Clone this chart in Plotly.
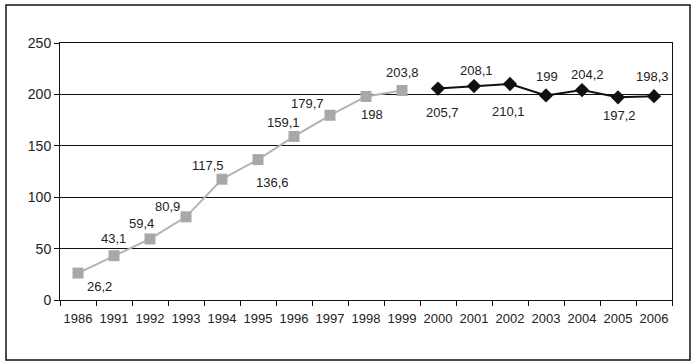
import plotly.graph_objects as go

years = ["1986", "1991", "1992", "1993", "1994", "1995", "1996", "1997", "1998",
         "1999", "2000", "2001", "2002", "2003", "2004", "2005", "2006"]
gray_years = years[:10]
gray_values = [26.2, 43.1, 59.4, 80.9, 117.5, 136.6, 159.1, 179.7, 198, 203.8]
black_years = years[10:]
black_values = [205.7, 208.1, 210.1, 199, 204.2, 197.2, 198.3]

# label offsets (pixels, relative to marker)
gray_shift = [(21, -13), (-1, 17), (-9, 15), (-19, 10), (-14, 14), (14, -23),
              (-11, 14), (-23, 12), (6, -18), (0, 18)]
black_shift = [(4, -24), (2, 16), (-2, -27), (1, 19), (5, 16), (1, -18), (-2, 20)]

def fmt(v):
    s = ("%g" % v)
    return s.replace(".", ",")

fig = go.Figure()
fig.add_trace(go.Scatter(
    x=gray_years, y=gray_values, mode="lines+markers",
    line=dict(color="#b3b3b3", width=2),
    marker=dict(symbol="square", size=11, color="#a8a8a8"),
    showlegend=False, hoverinfo="skip"))
fig.add_trace(go.Scatter(
    x=black_years, y=black_values, mode="lines+markers",
    line=dict(color="#111111", width=2),
    marker=dict(symbol="diamond", size=11, color="#111111"),
    showlegend=False, hoverinfo="skip"))

annotations = []
for xs, vs, sh in [(gray_years, gray_values, gray_shift), (black_years, black_values, black_shift)]:
    for x, v, (dx, dy) in zip(xs, vs, sh):
        annotations.append(dict(x=years.index(x), y=v, text=fmt(v), showarrow=False,
                                xshift=dx, yshift=dy,
                                font=dict(family="Liberation Sans, Arial", size=13, color="#222222")))

fig.update_layout(
    width=697, height=362,
    margin=dict(l=60, r=25, t=43, b=62),
    paper_bgcolor="white", plot_bgcolor="white",
    font=dict(family="Liberation Sans, Arial", color="#222222"),
    annotations=annotations,
    hovermode=False,
    shapes=[dict(type="rect", xref="paper", yref="paper",
                 x0=-0.0882, x1=1.0294, y0=-0.2335, y1=1.1479,
                 line=dict(color="#111111", width=1.5), fillcolor="rgba(0,0,0,0)")],
)
fig.update_xaxes(type="category", categoryorder="array", categoryarray=years,
                 range=[-0.5, len(years) - 0.5],
                 tickson="boundaries", ticks="outside", ticklen=5, tickcolor="#111111",
                 showline=True, linecolor="#111111", linewidth=1, mirror=True,
                 showgrid=False, tickangle=0, ticklabelstandoff=6,
                 tickfont=dict(size=13, color="#222222"))
fig.update_yaxes(range=[0, 250], dtick=50, ticks="outside", ticklen=5, tickcolor="#111111",
                 showline=True, linecolor="#111111", linewidth=1, mirror=True,
                 showgrid=True, gridcolor="#111111", gridwidth=1, zeroline=False,
                 tickfont=dict(size=14, color="#222222"))

fig.write_html("out.html", config={"displayModeBar": False},
               post_script="document.body.style.margin='0';")
